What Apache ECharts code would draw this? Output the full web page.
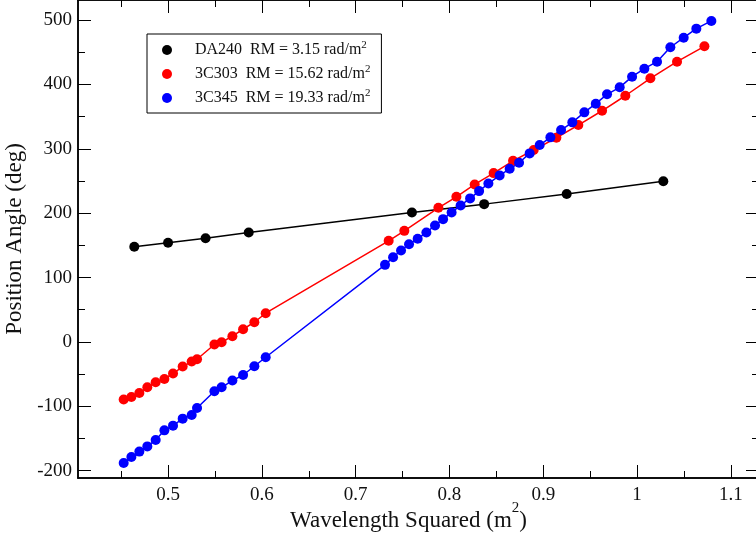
<!DOCTYPE html>
<html>
<head>
<meta charset="utf-8">
<script src="https://cdn.jsdelivr.net/npm/echarts@6/dist/echarts.min.js"></script>
<style>html,body{margin:0;padding:0;background:#fff;}#c{width:756px;height:539px;}</style>
</head>
<body>
<div id="c"></div>
<script>
// ---- data ----
const sourceNames = ['DA240', '3C303', '3C345'];
const rmValues = ['3.15', '15.62', '19.33'];
const seriesColors = ['#000000', '#ff0000', '#0000ff'];

const daX = [0.464, 0.500, 0.540, 0.586, 0.760, 0.837, 0.925, 1.028];
const daY = [147.7, 154.0, 160.9, 170.0, 201.1, 214.0, 229.6, 249.5];

const c303X = [0.4527, 0.4609, 0.4694, 0.4779, 0.4868, 0.4961, 0.5053, 0.5156, 0.5252, 0.5309, 0.5494, 0.5571, 0.5686, 0.5800, 0.5920, 0.6041, 0.7352, 0.7519, 0.7882, 0.8074, 0.8269, 0.8471, 0.8678, 0.8898, 0.9140, 0.9374, 0.9627, 0.9875, 1.0142, 1.0426, 1.0718];
const c303Y = [-89.5, -85.5, -79.3, -70.4, -62.6, -57.5, -49.1, -38.2, -30.5, -26.9, -4.0, -0.5, 8.9, 19.7, 30.6, 44.6, 157.0, 172.5, 208.3, 225.4, 244.6, 262.2, 281.3, 298.0, 317.1, 336.8, 359.0, 382.3, 409.4, 435.2, 459.1];

const c345X = [0.4527, 0.4609, 0.4694, 0.4779, 0.4868, 0.4961, 0.5053, 0.5156, 0.5252, 0.5309, 0.5494, 0.5571, 0.5686, 0.5800, 0.5920, 0.6041, 0.7313, 0.7399, 0.7484, 0.7569, 0.7661, 0.7754, 0.7846, 0.7932, 0.8023, 0.8119, 0.8220, 0.8316, 0.8415, 0.8535, 0.8642, 0.8742, 0.8855, 0.8962, 0.9076, 0.9190, 0.9310, 0.9438, 0.9560, 0.9680, 0.9815, 0.9947, 1.0078, 1.0213, 1.0355, 1.0497, 1.0632, 1.0792];
const c345Y = [-188.1, -178.7, -170.3, -162.2, -152.3, -137.3, -130.0, -119.1, -113.5, -102.6, -76.6, -70.4, -60.0, -51.3, -37.8, -23.8, 119.7, 131.6, 142.0, 151.8, 160.1, 170.0, 180.9, 190.7, 201.1, 212.0, 222.9, 234.2, 246.0, 258.6, 268.9, 278.2, 292.8, 305.7, 317.7, 329.0, 341.0, 356.5, 370.0, 384.5, 395.4, 411.9, 424.3, 435.2, 457.6, 472.5, 486.5, 498.5];

const xMajorTicks = [0.5, 0.6, 0.7, 0.8, 0.9, 1.0, 1.1];
const xMinorTicks = [0.45, 0.55, 0.65, 0.75, 0.85, 0.95, 1.05];
const yMajorTicks = [-200, -100, 0, 100, 200, 300, 400, 500];
const yMinorTicks = [-150, -50, 50, 150, 250, 350, 450];

// ---- chart ----
const FONT = 'Liberation Serif';
const zip = (a, b) => a.map((v, i) => [v, b[i]]);
const xs = [daX, c303X, c345X];
const ys = [daY, c303Y, c345Y];

const X_MIN = 0.404, X_MAX = 1.13, Y_MIN = -211.3, Y_MAX = 531;
const lineStyle = { color: '#000', width: 1.5 };

function xAx(pos, ticks, len, labels) {
  return {
    type: 'value', min: X_MIN, max: X_MAX, position: pos, gridIndex: 0,
    axisLine: { show: true, onZero: false, lineStyle },
    axisTick: { show: true, inside: true, length: len, customValues: ticks, lineStyle: { color: '#000', width: 1 } },
    axisLabel: labels ? { show: true, customValues: ticks, margin: 8, fontFamily: FONT, fontSize: 19, color: '#111',
      formatter: v => String(Math.round(v * 10) / 10) } : { show: false },
    splitLine: { show: false }
  };
}
function yAx(pos, ticks, len, labels) {
  return {
    type: 'value', min: Y_MIN, max: Y_MAX, position: pos, gridIndex: 0,
    axisLine: { show: true, onZero: false, lineStyle },
    axisTick: { show: true, inside: true, length: len, customValues: ticks, lineStyle: { color: '#000', width: 1 } },
    axisLabel: labels ? { show: true, customValues: ticks, margin: 6, fontFamily: FONT, fontSize: 19, color: '#111' } : { show: false },
    splitLine: { show: false }
  };
}

const xAxes = [xAx('bottom', xMajorTicks, 13, true), xAx('bottom', xMinorTicks, 7, false),
               xAx('top', xMajorTicks, 13, false), xAx('top', xMinorTicks, 7, false)];
xAxes[0].name = 'Wavelength Squared (m{sup|2})';
xAxes[0].nameLocation = 'middle';
xAxes[0].nameGap = 23;
xAxes[0].nameMoveOverlap = false;
xAxes[0].nameTextStyle = { fontFamily: FONT, fontSize: 23, lineHeight: 40, color: '#111', padding: [0, 20, 0, 0],
  rich: { sup: { fontFamily: FONT, fontSize: 15, lineHeight: 15, verticalAlign: 'top', color: '#111' } } };

const yAxes = [yAx('left', yMajorTicks, 13, true), yAx('left', yMinorTicks, 7, false),
               yAx('right', yMajorTicks, 13, false), yAx('right', yMinorTicks, 7, false)];
yAxes[0].name = 'Position Angle (deg)';
yAxes[0].nameLocation = 'middle';
yAxes[0].nameGap = 43;
yAxes[0].nameTextStyle = { fontFamily: FONT, fontSize: 23, color: '#111' };

const chart = echarts.init(document.getElementById('c'), null, { renderer: 'canvas' });
chart.setOption({
  animation: false,
  backgroundColor: '#fff',
  grid: { left: 78, top: 0, width: 681, height: 478, containLabel: false, outerBoundsMode: 'none' },
  xAxis: xAxes,
  yAxis: yAxes,
  legend: {
    left: 147, top: 34, orient: 'vertical',
    padding: [6, 11, 5, 15],
    borderColor: '#000', borderWidth: 1,
    icon: 'circle', itemWidth: 10, itemHeight: 10, itemGap: 4,
    data: sourceNames,
    formatter: name => name + '  RM = ' + rmValues[sourceNames.indexOf(name)] + ' rad/m{sup|2}',
    textStyle: {
      fontFamily: FONT, fontSize: 16, color: '#111', lineHeight: 20, padding: [0, 0, 0, 18],
      rich: { sup: { fontFamily: FONT, fontSize: 11, lineHeight: 8, verticalAlign: 'top', color: '#111' } }
    }
  },
  series: sourceNames.map((n, i) => ({
    name: n, type: 'line', xAxisIndex: 0, yAxisIndex: 0,
    data: zip(xs[i], ys[i]),
    symbol: 'circle', symbolSize: 10, showSymbol: true,
    itemStyle: { color: seriesColors[i] },
    lineStyle: { color: seriesColors[i], width: 1.5 },
    emphasis: { disabled: true }
  }))
});
</script>
</body>
</html>
